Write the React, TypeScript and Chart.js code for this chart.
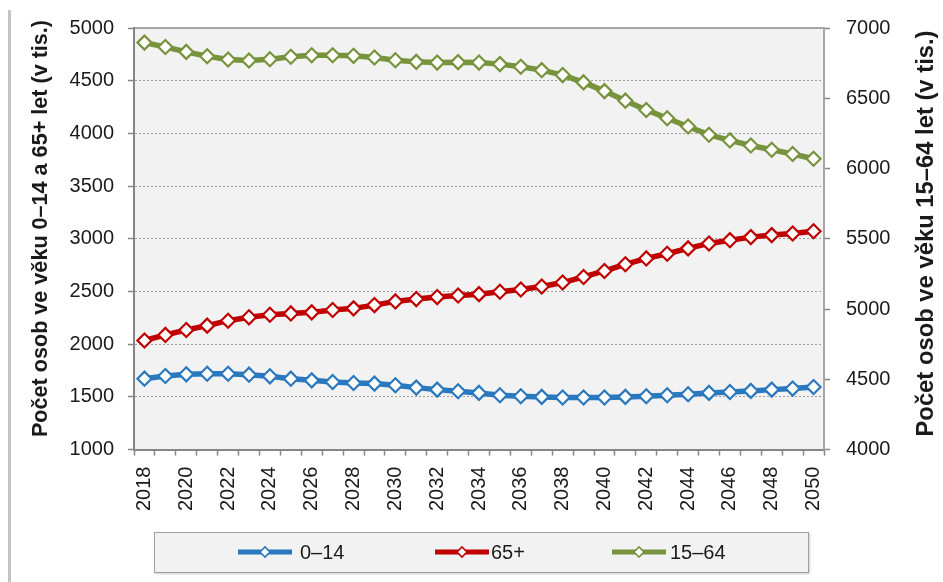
import React, { useEffect, useRef } from "react";
import { Chart, registerables } from "chart.js";

Chart.register(...registerables);

// ---------- data ----------
const years = [
  "2018", "2019", "2020", "2021", "2022", "2023", "2024", "2025", "2026", "2027", "2028",
  "2029", "2030", "2031", "2032", "2033", "2034", "2035", "2036", "2037", "2038", "2039",
  "2040", "2041", "2042", "2043", "2044", "2045", "2046", "2047", "2048", "2049", "2050",
];

const age0to14 = [
  1673, 1698, 1714, 1720, 1720, 1711, 1695, 1673, 1657, 1642, 1632,
  1626, 1610, 1588, 1569, 1553, 1538, 1516, 1506, 1500, 1494, 1494,
  1494, 1500, 1506, 1516, 1525, 1538, 1547, 1557, 1569, 1579, 1594,
];

const age65plus = [
  2035, 2088, 2135, 2176, 2223, 2255, 2280, 2292, 2302, 2324, 2340,
  2371, 2406, 2428, 2447, 2462, 2475, 2497, 2519, 2547, 2585, 2638,
  2695, 2758, 2814, 2858, 2909, 2956, 2987, 3016, 3035, 3050, 3072,
];

const age15to64 = [
  6896, 6865, 6830, 6799, 6776, 6769, 6778, 6795, 6806, 6806, 6802,
  6790, 6771, 6759, 6754, 6757, 6754, 6743, 6724, 6700, 6665, 6613,
  6551, 6483, 6417, 6358, 6299, 6240, 6200, 6164, 6134, 6103, 6070,
];

const seriesNames = ["0–14", "65+", "15–64"];
const seriesColors = ["#2a78bd", "#c00000", "#77933c"];

const leftAxisTitle = "Počet osob ve věku 0–14 a 65+ let (v tis.)";
const rightAxisTitle = "Počet osob ve věku 15–64 let (v tis.)";

const leftMin = 1000;
const leftMax = 5000;
const rightMin = 4000;
const rightMax = 7000;
const tickStep = 500;

// ---------- styling ----------
const FONT = "'Liberation Sans', Arial, Helvetica, sans-serif";
const TEXT = "#1a1a1a";
const AXIS = "#868686";

const decorPlugin = {
  id: "decor",
  beforeDraw(chart: any) {
    const { ctx, chartArea: a } = chart;
    ctx.save();
    ctx.fillStyle = "#f2f2f2";
    ctx.fillRect(a.left, a.top, a.right - a.left, a.bottom - a.top);
    ctx.strokeStyle = "#a6a6a6";
    ctx.lineWidth = 2;
    ctx.beginPath();
    ctx.moveTo(a.left, a.top);
    ctx.lineTo(a.right, a.top);
    ctx.stroke();
    ctx.restore();
  },
  afterDraw(chart: any) {
    const { ctx } = chart;
    ctx.save();
    ctx.fillStyle = TEXT;
    ctx.textAlign = "center";
    ctx.textBaseline = "middle";
    ctx.font = `bold 21.6px ${FONT}`;
    ctx.translate(41, 228.5);
    ctx.rotate(-Math.PI / 2);
    ctx.fillText(leftAxisTitle, 0, 0);
    ctx.restore();

    ctx.save();
    ctx.fillStyle = TEXT;
    ctx.textAlign = "center";
    ctx.textBaseline = "middle";
    ctx.font = `bold 23.8px ${FONT}`;
    ctx.translate(926, 233.5);
    ctx.rotate(-Math.PI / 2);
    ctx.fillText(rightAxisTitle, 0, 0);
    ctx.restore();
  },
};

function lineDataset(label: string, data: number[], color: string, axis: string) {
  return {
    label,
    data,
    yAxisID: axis,
    borderColor: color,
    backgroundColor: "#ffffff",
    borderWidth: 5.5,
    pointStyle: "rectRot",
    pointRadius: 7,
    pointBorderWidth: 2.2,
    pointBorderColor: color,
    pointBackgroundColor: "#ffffff",
    tension: 0,
    fill: false,
  };
}

function LegendMarker({ color }: { color: string }) {
  return (
    <svg width={54} height={14} style={{ display: "block" }}>
      <line x1={0} y1={7} x2={54} y2={7} stroke={color} strokeWidth={5} />
      <polygon points="22,7 27,2 32,7 27,12" fill="#ffffff" stroke={color} strokeWidth={1.6} />
    </svg>
  );
}

const legendLineLefts = [83, 280, 457];
const legendTextLefts = [145, 336, 515];

const tickFont = { family: FONT, size: 20 };

export default function App() {
  const canvasRef = useRef<HTMLCanvasElement | null>(null);

  useEffect(() => {
    if (!canvasRef.current) return;
    const chart = new Chart(canvasRef.current, {
      type: "line",
      data: {
        labels: years,
        datasets: [
          lineDataset(seriesNames[0], age0to14, seriesColors[0], "y"),
          lineDataset(seriesNames[1], age65plus, seriesColors[1], "y"),
          lineDataset(seriesNames[2], age15to64, seriesColors[2], "y1"),
        ] as any,
      },
      options: {
        responsive: false,
        animation: false,
        devicePixelRatio: 1,
        layout: { padding: { top: 26, left: 0, right: 0, bottom: 0 } },
        plugins: {
          legend: { display: false },
          tooltip: { enabled: false },
        },
        scales: {
          x: {
            type: "category",
            offset: true,
            grid: {
              display: true,
              drawOnChartArea: false,
              drawTicks: true,
              tickLength: 6,
              tickColor: AXIS,
              tickWidth: 1.5,
              offset: true,
            },
            border: { display: true, color: AXIS, width: 2 },
            ticks: {
              autoSkip: false,
              maxRotation: 90,
              minRotation: 90,
              padding: 11,
              color: TEXT,
              font: tickFont,
              callback: (_v: any, i: number) => (i % 2 === 0 ? years[i] : ""),
            },
            afterFit: (s: any) => {
              s.height = 132.4;
            },
          },
          y: {
            position: "left",
            min: leftMin,
            max: leftMax,
            grid: {
              color: "#a0a0a0",
              lineWidth: 1,
              drawTicks: true,
              tickLength: 6,
              tickColor: AXIS,
              tickWidth: 1.5,
              tickBorderDash: [],
            },
            border: { display: true, color: AXIS, width: 2, dash: [2, 2] },
            ticks: {
              stepSize: tickStep,
              padding: 14,
              color: TEXT,
              font: tickFont,
              callback: (v: any) => String(v),
            },
            afterFit: (s: any) => {
              s.width = 134;
            },
          },
          y1: {
            position: "right",
            min: rightMin,
            max: rightMax,
            grid: {
              drawOnChartArea: false,
              drawTicks: true,
              tickLength: 6,
              tickColor: AXIS,
              tickWidth: 1.5,
            },
            border: { display: true, color: "#a6a6a6", width: 2 },
            ticks: {
              stepSize: tickStep,
              padding: 16,
              color: TEXT,
              font: tickFont,
              callback: (v: any) => String(v),
            },
            afterFit: (s: any) => {
              s.width = 119;
            },
          },
        },
      } as any,
      plugins: [decorPlugin],
    });
    return () => chart.destroy();
  }, []);

  return (
    <div
      style={{
        position: "absolute",
        left: 0,
        top: 0,
        width: 943,
        height: 582,
        background: "#ffffff",
        overflow: "hidden",
      }}
    >
      <div
        style={{
          position: "absolute",
          left: 8,
          top: 10,
          width: 3,
          height: 572,
          background: "#c3c3c3",
        }}
      />
      <canvas
        ref={canvasRef}
        width={943}
        height={582}
        style={{ position: "absolute", left: 0, top: 0, width: 943, height: 582 }}
      />
      <div
        style={{
          position: "absolute",
          left: 154,
          top: 532,
          width: 655,
          height: 41,
          boxSizing: "border-box",
          border: "1.5px solid #a0a0a0",
          background: "#f2f2f2",
          boxShadow: "1px 1px 2px rgba(0,0,0,0.2)",
          fontFamily: FONT,
          fontSize: 20,
          color: TEXT,
        }}
      >
        {seriesNames.map((name, i) => (
          <React.Fragment key={name}>
            <div
              style={{
                position: "absolute",
                left: legendLineLefts[i],
                top: 12,
              }}
            >
              <LegendMarker color={seriesColors[i]} />
            </div>
            <div
              style={{
                position: "absolute",
                left: legendTextLefts[i],
                top: 0,
                height: 38,
                lineHeight: "38px",
                whiteSpace: "nowrap",
              }}
            >
              {name}
            </div>
          </React.Fragment>
        ))}
      </div>
    </div>
  );
}
